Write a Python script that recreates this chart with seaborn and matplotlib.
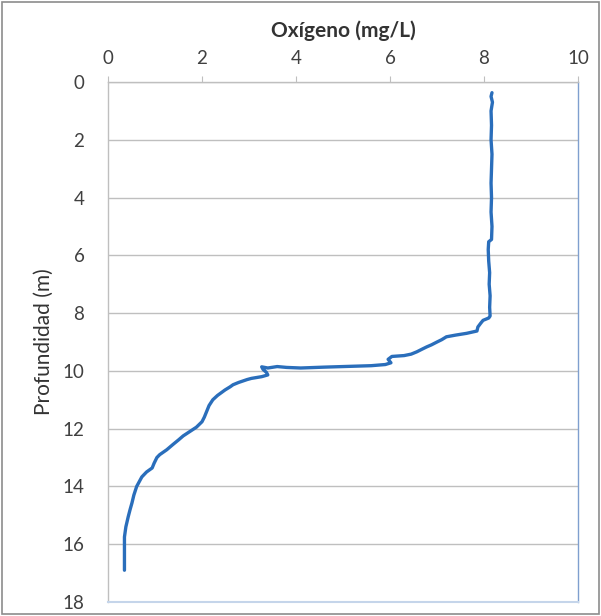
import matplotlib
matplotlib.use("Agg")
import matplotlib.pyplot as plt
import seaborn as sns
import pandas as pd
from matplotlib.patches import Rectangle

depth = [0.37, 0.5, 0.7, 1.0, 1.5, 2.0, 2.5, 3.0, 3.5, 4.0, 4.5, 5.0, 5.45, 5.53, 5.8,
         6.2, 6.6, 7.0, 7.4, 7.8, 8.1, 8.17, 8.25, 8.35, 8.48, 8.62, 8.7, 8.76, 8.82,
         8.92, 9.0, 9.1, 9.17, 9.25, 9.34, 9.42, 9.47, 9.5, 9.6, 9.72, 9.78, 9.82, 9.84,
         9.87, 9.9, 9.88, 9.85, 9.9, 9.86, 9.95, 10.05, 10.14, 10.2, 10.26, 10.3, 10.4,
         10.48, 10.55, 10.66, 10.85, 11.0, 11.2, 11.4, 11.6, 11.76, 11.95, 12.1, 12.25,
         12.39, 12.55, 12.73, 12.9, 13.0, 13.2, 13.36, 13.5, 13.67, 13.85, 14.0, 14.3,
         14.57, 14.8, 15.05, 15.4, 15.75, 16.2, 16.6, 16.9]
oxygen = [8.17, 8.15, 8.18, 8.15, 8.16, 8.15, 8.17, 8.16, 8.15, 8.16, 8.15, 8.17, 8.16,
          8.10, 8.09, 8.10, 8.12, 8.11, 8.13, 8.12, 8.13, 8.10, 7.98, 7.93, 7.87, 7.85,
          7.63, 7.4, 7.2, 7.1, 7.0, 6.88, 6.78, 6.68, 6.57, 6.45, 6.3, 6.04, 5.96, 6.02,
          5.9, 5.6, 5.2, 4.6, 4.1, 3.8, 3.6, 3.4, 3.27, 3.3, 3.37, 3.4, 3.27, 3.05, 2.96,
          2.78, 2.66, 2.6, 2.49, 2.33, 2.23, 2.15, 2.1, 2.05, 2.0, 1.88, 1.74, 1.6, 1.5,
          1.38, 1.25, 1.1, 1.04, 0.98, 0.94, 0.82, 0.72, 0.66, 0.61, 0.55, 0.51, 0.47,
          0.43, 0.38, 0.35, 0.35, 0.35, 0.35]
x_ticks = [0, 2, 4, 6, 8, 10]
y_ticks = [0, 2, 4, 6, 8, 10, 12, 14, 16, 18]

sns.set_theme(style="white")
plt.rcParams['font.family'] = ['Lato', 'DejaVu Sans']

df = pd.DataFrame({"Oxigeno": oxygen, "Profundidad": depth})

fig = plt.figure(figsize=(6.01, 6.16), dpi=100)
ax = fig.add_axes([108/601, 1 - 602/616, 470/601, 520/616])

sns.lineplot(data=df, x="Oxigeno", y="Profundidad", sort=False, estimator=None,
             color="#2a6ebb", linewidth=2.4, ax=ax)

ax.set_xlim(0, 10)
ax.set_ylim(18, 0)
ax.set_xticks(x_ticks)
ax.set_yticks(y_ticks)
ax.xaxis.tick_top()
ax.xaxis.set_label_position("top")
ax.set_xlabel("Oxígeno (mg/L)", fontsize=15, fontweight="bold", labelpad=9, color="#333333")
ax.set_ylabel("Profundidad (m)", fontsize=15, labelpad=6, color="#333333")
ax.tick_params(axis="x", which="both", direction="out", length=4, width=0.8,
               color="#bfbfbf", labelsize=13.5, labelcolor="#404040", pad=7)
ax.tick_params(axis="y", which="both", direction="out", length=5, width=0.8,
               color="#bfbfbf", labelsize=13.5, labelcolor="#404040", pad=12)
ax.grid(axis="y", color="#bfbfbf", linewidth=1.0)
ax.grid(axis="x", visible=False)
for side in ["left", "top"]:
    ax.spines[side].set_color("#bfbfbf")
    ax.spines[side].set_linewidth(1.0)
ax.spines["right"].set_color("#7f9fcf")
ax.spines["right"].set_linewidth(1.0)
ax.spines["bottom"].set_color("#c5d5ea")
ax.spines["bottom"].set_linewidth(1.5)

fig.patches.append(Rectangle((0.004, 0.003), 0.992, 0.993, transform=fig.transFigure,
                             fill=False, edgecolor="#8c8c8c", linewidth=1.2))

fig.savefig("out.png", dpi=100)
